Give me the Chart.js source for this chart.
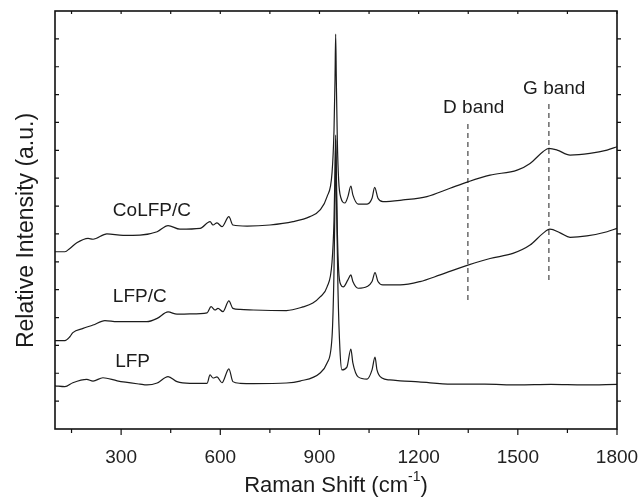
<!DOCTYPE html>
<html lang="en">
<head>
    <meta charset="UTF-8">
    <title>Raman Spectra</title>
    <script src="https://cdn.jsdelivr.net/npm/chart.js@4"></script>
    <style>
        html, body { margin: 0; padding: 0; background: #fff; }
        #wrap { width: 643px; height: 498px; }
    </style>
</head>
<body>
<div id="wrap"><canvas id="raman" width="643" height="498"></canvas></div>

<script>
// Raman shift (cm-1) / relative intensity
const lfpShift = [100,130,154,196,215,245,288,357,378,409,442,469,508,560,569,578,590,605,626,638,660,700,800,841,902,923,938,944,947,949,952,956,962,968,983,995,1001,1017,1044,1059,1068,1074,1089,1113,1144,1200,1300,1400,1500,1600,1700,1800];
const lfpVal = [1.55,1.52,1.66,1.78,1.72,1.84,1.73,1.61,1.58,1.65,1.88,1.70,1.64,1.64,1.94,1.83,1.87,1.66,2.16,1.70,1.64,1.63,1.65,1.72,2.01,2.37,3.30,5.70,8.22,10.37,7.86,4.99,2.83,2.12,2.22,2.87,2.37,1.87,1.79,2.12,2.58,2.12,1.83,1.76,1.73,1.69,1.61,1.61,1.58,1.60,1.58,1.60];

const lfpcShift = [100,130,145,154,185,215,251,288,336,378,409,442,469,508,560,572,584,593,608,626,638,660,700,800,850,880,902,923,938,944,947,949,951,954,958,965,972,986,995,1001,1017,1044,1059,1068,1077,1092,1144,1204,1265,1349,1416,1485,1537,1576,1597,1628,1658,1709,1770,1800];
const lfpcVal = [3.17,3.17,3.31,3.46,3.61,3.73,3.89,3.85,3.85,3.85,3.97,4.20,4.12,4.13,4.17,4.39,4.27,4.33,4.21,4.60,4.33,4.29,4.27,4.25,4.38,4.52,4.74,5.10,5.99,7.50,9.29,10.55,9.29,7.14,5.70,5.17,5.10,5.35,5.53,5.29,5.05,5.11,5.29,5.61,5.29,5.17,5.17,5.29,5.53,5.88,6.12,6.30,6.60,7.02,7.17,7.04,6.88,6.93,7.08,7.20];

const colfpShift = [100,130,145,166,200,215,257,306,357,409,442,478,539,569,578,590,605,626,638,681,750,820,871,902,923,938,944,947,949,951,954,958,965,977,986,995,1001,1017,1044,1059,1067,1077,1092,1153,1225,1295,1349,1416,1498,1537,1576,1594,1619,1658,1718,1770,1800];
const colfpVal = [6.36,6.36,6.48,6.68,6.84,6.81,7.00,6.95,6.96,7.08,7.30,7.17,7.20,7.44,7.32,7.40,7.26,7.62,7.32,7.28,7.32,7.44,7.62,7.86,8.34,9.19,10.73,12.52,14.17,12.52,10.37,8.93,8.29,8.11,8.34,8.72,8.40,8.07,8.07,8.28,8.67,8.28,8.16,8.22,8.34,8.64,8.87,9.11,9.29,9.53,9.95,10.07,10.01,9.83,9.89,10.01,10.13];

// D and G band markers: [shift, from, to]
const dBand = [1349, 4.63, 10.98];
const gBand = [1594, 5.35, 11.70];

const xMajor = [300, 600, 900, 1200, 1500, 1800];
const xMinor = [150, 450, 750, 1050, 1350, 1650];
const yTicks = [1,2,3,4,5,6,7,8,9,10,11,12,13,14];

// text labels: [text, shift, intensity]
const labels = [
    ["CoLFP/C", 275, 7.64],
    ["LFP/C", 275, 4.57],
    ["LFP", 282, 2.24],
    ["D band", 1274, 11.34],
    ["G band", 1516, 12.02]
];

const FONT = "'Liberation Sans', Arial, sans-serif";
const INK = "#1c1c1c";

function pairs(xs, ys) {
    return xs.map((x, i) => ({ x: x, y: ys[i] }));
}

function spectrum(xs, ys) {
    return {
        data: pairs(xs, ys),
        borderColor: INK,
        borderWidth: 1.2,
        pointRadius: 0,
        cubicInterpolationMode: "monotone",
        fill: false
    };
}

function marker(b) {
    return {
        data: [{ x: b[0], y: b[1] }, { x: b[0], y: b[2] }],
        borderColor: "#333",
        borderWidth: 1.1,
        borderDash: [5, 4],
        pointRadius: 0,
        fill: false
    };
}

const frame = {
    id: "frame",
    afterDraw(chart) {
        const { ctx, chartArea: a, scales: { x, y } } = chart;
        ctx.save();
        ctx.strokeStyle = "#111";
        ctx.lineWidth = 1.2;
        ctx.beginPath();
        // bottom ticks, outward
        xMajor.forEach(v => { const px = x.getPixelForValue(v); ctx.moveTo(px, a.bottom); ctx.lineTo(px, a.bottom + 6); });
        xMinor.forEach(v => { const px = x.getPixelForValue(v); ctx.moveTo(px, a.bottom); ctx.lineTo(px, a.bottom + 4); });
        // top ticks, inward
        xMajor.concat(xMinor).forEach(v => { const px = x.getPixelForValue(v); ctx.moveTo(px, a.top); ctx.lineTo(px, a.top + 3); });
        // left inward, right outward
        yTicks.forEach(v => {
            const py = y.getPixelForValue(v);
            ctx.moveTo(a.left, py); ctx.lineTo(a.left + 4, py);
            ctx.moveTo(a.right, py); ctx.lineTo(a.right + 4, py);
        });
        ctx.stroke();

        ctx.lineWidth = 1.6;
        ctx.strokeRect(a.left, a.top, a.right - a.left, a.bottom - a.top);

        // curve and band labels
        ctx.fillStyle = INK;
        ctx.font = "19px " + FONT;
        ctx.textAlign = "left";
        ctx.textBaseline = "alphabetic";
        labels.forEach(l => ctx.fillText(l[0], x.getPixelForValue(l[1]), y.getPixelForValue(l[2])));

        // x title with superscript
        ctx.font = "22px " + FONT;
        const main = "Raman Shift (cm";
        const sup = "-1";
        const close = ")";
        const wMain = ctx.measureText(main).width;
        const wClose = ctx.measureText(close).width;
        ctx.font = "14px " + FONT;
        const wSup = ctx.measureText(sup).width;
        const total = wMain + wSup + wClose;
        let tx = (a.left + a.right) / 2 - total / 2;
        const ty = 492;
        ctx.font = "22px " + FONT;
        ctx.fillText(main, tx, ty);
        ctx.font = "14px " + FONT;
        ctx.fillText(sup, tx + wMain, ty - 11);
        ctx.font = "22px " + FONT;
        ctx.fillText(close, tx + wMain + wSup, ty);

        // y title
        ctx.translate(33, 230.5);
        ctx.rotate(-Math.PI / 2);
        ctx.textAlign = "center";
        ctx.font = "23px " + FONT;
        ctx.fillText("Relative Intensity (a.u.)", 0, 0);
        ctx.restore();
    }
};

new Chart(document.getElementById("raman").getContext("2d"), {
    type: "line",
    data: {
        datasets: [
            spectrum(lfpShift, lfpVal),
            spectrum(lfpcShift, lfpcVal),
            spectrum(colfpShift, colfpVal),
            marker(dBand),
            marker(gBand)
        ]
    },
    options: {
        responsive: false,
        animation: false,
        events: [],
        layout: { padding: { top: 11, right: 26, left: 0, bottom: 0 } },
        plugins: { legend: { display: false }, tooltip: { enabled: false } },
        scales: {
            x: {
                type: "linear",
                min: 100,
                max: 1800,
                grid: { display: false },
                border: { display: false },
                afterBuildTicks: s => { s.ticks = xMajor.map(v => ({ value: v })); },
                afterFit: s => { s.height = 69; s.paddingRight = 0; },
                ticks: {
                    color: "#222",
                    font: { family: FONT, size: 19 },
                    padding: 9,
                    maxRotation: 0,
                    callback: v => String(v)
                }
            },
            y: {
                type: "linear",
                min: 0,
                max: 15,
                grid: { display: false },
                border: { display: false },
                ticks: { display: false },
                afterFit: s => { s.width = 55; }
            }
        }
    },
    plugins: [frame]
});
</script>
</body>
</html>
